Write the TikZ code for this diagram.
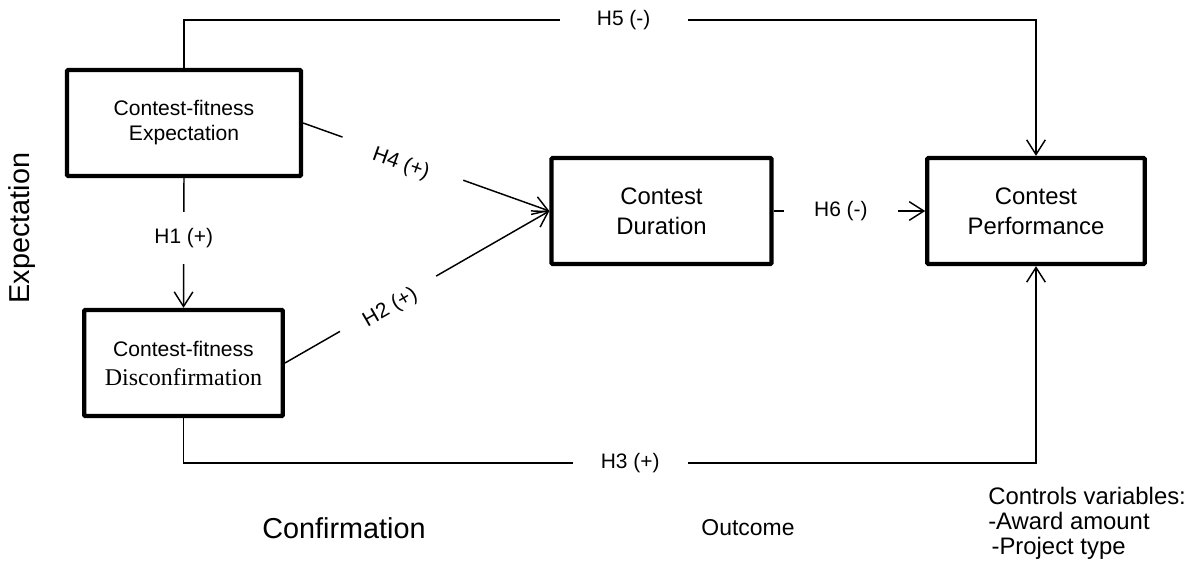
\documentclass[tikz,border=0pt]{standalone}
\usepackage{fontspec}
\setmainfont{Liberation Sans}
\newfontfamily\serifdisc{Liberation Serif}
\usetikzlibrary{arrows.meta}

\begin{document}
\begin{tikzpicture}[x=0.75pt, y=-0.75pt,
        box/.style={draw, line width=3.2pt, rounded corners=0.8pt, minimum height=79.5pt, align=center, inner sep=0pt},
        conn/.style={line width=1.1pt},
        arr/.style={conn, -{Straight Barb[length=11pt, width=14pt]}},
        hyp/.style={fill=white, font=\fontsize{15.7}{18}\selectfont, inner ysep=2pt}]
            \useasboundingbox (0,0) rectangle (1193,575);

            %nodes
            \node[box, minimum width=175.5pt, font=\fontsize{15.8}{18.75}\selectfont] (expect) at (184,123) {Contest-fitness\\Expectation};
            \node[box, minimum width=149pt, font=\fontsize{15.8}{18.75}\selectfont] (disconf) at (183.5,363) {Contest-fitness\\[3pt]{\serifdisc\fontsize{18}{20}\selectfont Disconfirmation}};
            \node[box, minimum width=165pt, font=\fontsize{17.9}{22.5}\selectfont] (duration) at (661.5,211) {Contest\\Duration};
            \node[box, minimum width=163pt, font=\fontsize{17.9}{22.5}\selectfont] (perf) at (1036,211) {Contest\\Performance};

            \coordinate (topleft) at (184,20);
            \coordinate (topright) at (1036,20);
            \coordinate (botleft) at (183.5,463);
            \coordinate (botright) at (1036,463);

            %stages
            \node[font=\fontsize{21.6}{24}\selectfont, rotate=90] (stageexp) at (22,228) {Expectation};
            \node[font=\fontsize{21.6}{24}\selectfont] (stageconf) at (344,528) {Confirmation};
            \node[font=\fontsize{17.2}{20}\selectfont] (stageout) at (748,528) {Outcome};
            \node[font=\fontsize{17.9}{18.75}\selectfont, align=left, anchor=west, inner sep=0pt] (controls) at (988,523) {Controls variables:\\-Award amount\\\hspace*{2.5pt}-Project type};

            %edges
            \draw[arr] (expect.north) -- (topleft) -- node[hyp, pos=0.516, inner xsep=28pt] {H5 (-)} (topright) -- (perf.north);
            \draw[arr] (disconf.south) -- (botleft) -- node[hyp, pos=0.524, inner xsep=21pt] {H3 (+)} (botright) -- (perf.south);
            \draw[arr] (expect.south) -- (disconf.north) node[hyp, pos=0.46, inner xsep=2pt, inner ysep=12pt] {H1 (+)};
            \draw[arr] (expect.east) -- (duration.west) node[hyp, pos=0.405, sloped, yshift=-4.5pt, inner xsep=26pt, inner ysep=6pt] {H4 (+)};
            \draw[arr] (disconf.east) -- (duration.west) node[hyp, pos=0.39, sloped, yshift=-3.5pt, inner xsep=19.5pt, inner ysep=5pt] {H2 (+)};
            \draw[arr] (duration.east) -- (perf.west) node[hyp, pos=0.444, inner xsep=22.5pt] {H6 (-)};
        \end{tikzpicture}
\end{document}
